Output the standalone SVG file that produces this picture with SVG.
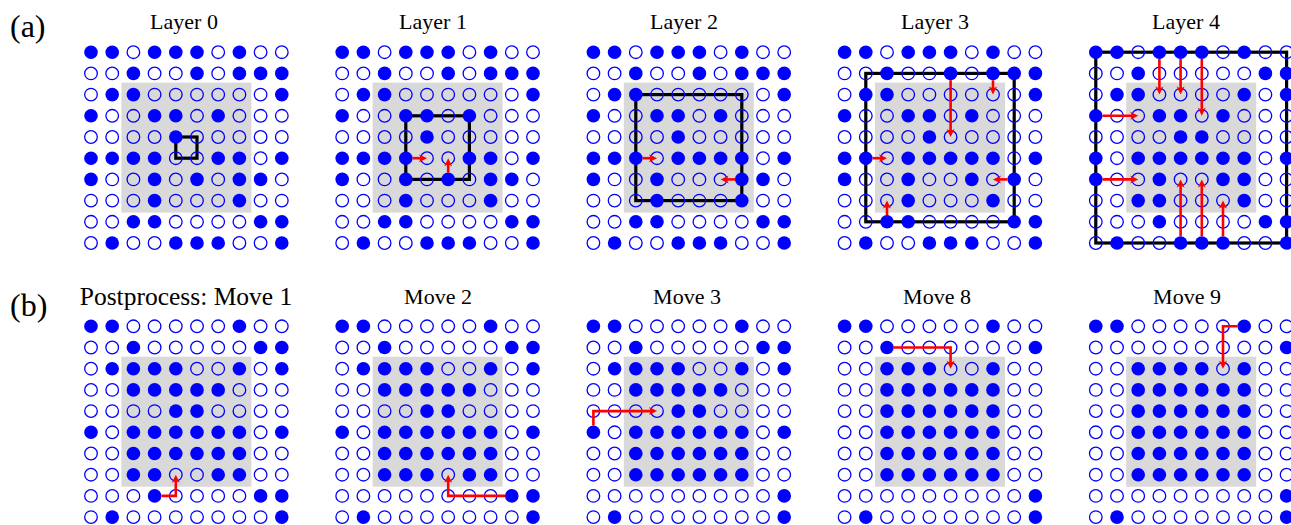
<svg xmlns="http://www.w3.org/2000/svg" xmlns:xlink="http://www.w3.org/1999/xlink" width="1291" height="525" viewBox="0 0 1291 525">
<style>
.t{font-family:"Liberation Serif","Times New Roman",serif;font-size:22px;fill:#000;text-anchor:middle}
.lab{font-family:"Liberation Serif","Times New Roman",serif;font-size:32px;fill:#000}
.g{fill:#d9d9d9}
.fr{fill:none;stroke:#000;stroke-width:3.2}
.ar{fill:none;stroke:#f00;stroke-width:2.6;marker-end:url(#ah)}
</style>
<defs>
<marker id="ah" markerUnits="userSpaceOnUse" markerWidth="8" markerHeight="8" refX="4" refY="4" orient="auto" overflow="visible"><path d="M0,0 L8,4 L0,8 L2,4 z" fill="#f00"/></marker>
<circle id="F" r="6.8" fill="#00f"/>
<circle id="H" r="6.3" fill="none" stroke="#00f" stroke-width="1.3"/>
<g id="ra"><use href="#F" x="0"/><use href="#F" x="21.2"/><use href="#H" x="42.4"/><use href="#F" x="63.6"/><use href="#F" x="84.8"/><use href="#F" x="106"/><use href="#H" x="127.2"/><use href="#F" x="148.4"/><use href="#H" x="169.6"/><use href="#H" x="190.8"/></g>
<g id="rb"><use href="#H" x="0"/><use href="#H" x="21.2"/><use href="#F" x="42.4"/><use href="#H" x="63.6"/><use href="#H" x="84.8"/><use href="#F" x="106"/><use href="#H" x="127.2"/><use href="#F" x="148.4"/><use href="#F" x="169.6"/><use href="#F" x="190.8"/></g>
<g id="rc"><use href="#H" x="0"/><use href="#F" x="21.2"/><use href="#F" x="42.4"/><use href="#H" x="63.6"/><use href="#H" x="84.8"/><use href="#H" x="106"/><use href="#H" x="127.2"/><use href="#H" x="148.4"/><use href="#H" x="169.6"/><use href="#F" x="190.8"/></g>
<g id="rd"><use href="#F" x="0"/><use href="#H" x="21.2"/><use href="#H" x="42.4"/><use href="#F" x="63.6"/><use href="#F" x="84.8"/><use href="#H" x="106"/><use href="#F" x="127.2"/><use href="#H" x="148.4"/><use href="#H" x="169.6"/><use href="#H" x="190.8"/></g>
<g id="re"><use href="#H" x="0"/><use href="#H" x="21.2"/><use href="#H" x="42.4"/><use href="#H" x="63.6"/><use href="#F" x="84.8"/><use href="#H" x="106"/><use href="#H" x="127.2"/><use href="#H" x="148.4"/><use href="#H" x="169.6"/><use href="#H" x="190.8"/></g>
<g id="rf"><use href="#F" x="0"/><use href="#F" x="21.2"/><use href="#F" x="42.4"/><use href="#F" x="63.6"/><use href="#H" x="84.8"/><use href="#H" x="106"/><use href="#F" x="127.2"/><use href="#F" x="148.4"/><use href="#H" x="169.6"/><use href="#F" x="190.8"/></g>
<g id="rg"><use href="#F" x="0"/><use href="#H" x="21.2"/><use href="#H" x="42.4"/><use href="#F" x="63.6"/><use href="#H" x="84.8"/><use href="#F" x="106"/><use href="#H" x="127.2"/><use href="#F" x="148.4"/><use href="#F" x="169.6"/><use href="#H" x="190.8"/></g>
<g id="rh"><use href="#H" x="0"/><use href="#H" x="21.2"/><use href="#H" x="42.4"/><use href="#F" x="63.6"/><use href="#H" x="84.8"/><use href="#H" x="106"/><use href="#H" x="127.2"/><use href="#F" x="148.4"/><use href="#H" x="169.6"/><use href="#H" x="190.8"/></g>
<g id="ri"><use href="#H" x="0"/><use href="#H" x="21.2"/><use href="#F" x="42.4"/><use href="#F" x="63.6"/><use href="#H" x="84.8"/><use href="#H" x="106"/><use href="#H" x="127.2"/><use href="#H" x="148.4"/><use href="#F" x="169.6"/><use href="#F" x="190.8"/></g>
<g id="rj"><use href="#H" x="0"/><use href="#F" x="21.2"/><use href="#H" x="42.4"/><use href="#H" x="63.6"/><use href="#F" x="84.8"/><use href="#F" x="106"/><use href="#F" x="127.2"/><use href="#H" x="148.4"/><use href="#H" x="169.6"/><use href="#F" x="190.8"/></g>
<g id="rk"><use href="#F" x="0"/><use href="#F" x="21.2"/><use href="#F" x="42.4"/><use href="#H" x="63.6"/><use href="#F" x="84.8"/><use href="#F" x="106"/><use href="#F" x="127.2"/><use href="#F" x="148.4"/><use href="#H" x="169.6"/><use href="#F" x="190.8"/></g>
<g id="rl"><use href="#F" x="0"/><use href="#H" x="21.2"/><use href="#H" x="42.4"/><use href="#F" x="63.6"/><use href="#H" x="84.8"/><use href="#H" x="106"/><use href="#H" x="127.2"/><use href="#F" x="148.4"/><use href="#F" x="169.6"/><use href="#H" x="190.8"/></g>
<g id="rm"><use href="#F" x="0"/><use href="#F" x="21.2"/><use href="#H" x="42.4"/><use href="#F" x="63.6"/><use href="#F" x="84.8"/><use href="#F" x="106"/><use href="#F" x="127.2"/><use href="#F" x="148.4"/><use href="#H" x="169.6"/><use href="#F" x="190.8"/></g>
<g id="rn"><use href="#F" x="0"/><use href="#H" x="21.2"/><use href="#H" x="42.4"/><use href="#F" x="63.6"/><use href="#H" x="84.8"/><use href="#H" x="106"/><use href="#F" x="127.2"/><use href="#H" x="148.4"/><use href="#F" x="169.6"/><use href="#H" x="190.8"/></g>
<g id="ro"><use href="#H" x="0"/><use href="#H" x="21.2"/><use href="#F" x="42.4"/><use href="#H" x="63.6"/><use href="#H" x="84.8"/><use href="#H" x="106"/><use href="#H" x="127.2"/><use href="#H" x="148.4"/><use href="#F" x="169.6"/><use href="#F" x="190.8"/></g>
<g id="rp"><use href="#H" x="0"/><use href="#F" x="21.2"/><use href="#F" x="42.4"/><use href="#H" x="63.6"/><use href="#H" x="84.8"/><use href="#H" x="106"/><use href="#H" x="127.2"/><use href="#F" x="148.4"/><use href="#H" x="169.6"/><use href="#F" x="190.8"/></g>
<g id="rq"><use href="#H" x="0"/><use href="#H" x="21.2"/><use href="#H" x="42.4"/><use href="#H" x="63.6"/><use href="#F" x="84.8"/><use href="#F" x="106"/><use href="#H" x="127.2"/><use href="#H" x="148.4"/><use href="#H" x="169.6"/><use href="#H" x="190.8"/></g>
<g id="rr"><use href="#F" x="0"/><use href="#H" x="21.2"/><use href="#F" x="42.4"/><use href="#F" x="63.6"/><use href="#F" x="84.8"/><use href="#F" x="106"/><use href="#F" x="127.2"/><use href="#F" x="148.4"/><use href="#H" x="169.6"/><use href="#F" x="190.8"/></g>
<g id="rs"><use href="#F" x="0"/><use href="#H" x="21.2"/><use href="#H" x="42.4"/><use href="#F" x="63.6"/><use href="#H" x="84.8"/><use href="#H" x="106"/><use href="#F" x="127.2"/><use href="#F" x="148.4"/><use href="#H" x="169.6"/><use href="#H" x="190.8"/></g>
<g id="rt"><use href="#H" x="0"/><use href="#H" x="21.2"/><use href="#F" x="42.4"/><use href="#F" x="63.6"/><use href="#H" x="84.8"/><use href="#H" x="106"/><use href="#H" x="127.2"/><use href="#F" x="148.4"/><use href="#H" x="169.6"/><use href="#H" x="190.8"/></g>
<g id="ru"><use href="#H" x="0"/><use href="#H" x="21.2"/><use href="#H" x="42.4"/><use href="#F" x="63.6"/><use href="#H" x="84.8"/><use href="#H" x="106"/><use href="#H" x="127.2"/><use href="#H" x="148.4"/><use href="#F" x="169.6"/><use href="#F" x="190.8"/></g>
<g id="rv"><use href="#F" x="0"/><use href="#F" x="21.2"/><use href="#H" x="42.4"/><use href="#H" x="63.6"/><use href="#H" x="84.8"/><use href="#H" x="106"/><use href="#H" x="127.2"/><use href="#F" x="148.4"/><use href="#H" x="169.6"/><use href="#H" x="190.8"/></g>
<g id="rw"><use href="#H" x="0"/><use href="#F" x="21.2"/><use href="#F" x="42.4"/><use href="#F" x="63.6"/><use href="#F" x="84.8"/><use href="#H" x="106"/><use href="#H" x="127.2"/><use href="#F" x="148.4"/><use href="#H" x="169.6"/><use href="#F" x="190.8"/></g>
<g id="rx"><use href="#H" x="0"/><use href="#H" x="21.2"/><use href="#F" x="42.4"/><use href="#F" x="63.6"/><use href="#F" x="84.8"/><use href="#F" x="106"/><use href="#F" x="127.2"/><use href="#H" x="148.4"/><use href="#H" x="169.6"/><use href="#H" x="190.8"/></g>
<g id="ry"><use href="#H" x="0"/><use href="#H" x="21.2"/><use href="#F" x="42.4"/><use href="#F" x="63.6"/><use href="#F" x="84.8"/><use href="#F" x="106"/><use href="#F" x="127.2"/><use href="#F" x="148.4"/><use href="#H" x="169.6"/><use href="#H" x="190.8"/></g>
<g id="rz"><use href="#H" x="0"/><use href="#H" x="21.2"/><use href="#F" x="42.4"/><use href="#F" x="63.6"/><use href="#H" x="84.8"/><use href="#H" x="106"/><use href="#F" x="127.2"/><use href="#F" x="148.4"/><use href="#H" x="169.6"/><use href="#H" x="190.8"/></g>
<g id="rA"><use href="#H" x="0"/><use href="#F" x="21.2"/><use href="#H" x="42.4"/><use href="#H" x="63.6"/><use href="#H" x="84.8"/><use href="#H" x="106"/><use href="#H" x="127.2"/><use href="#H" x="148.4"/><use href="#H" x="169.6"/><use href="#F" x="190.8"/></g>
<g id="rB"><use href="#H" x="0"/><use href="#H" x="21.2"/><use href="#F" x="42.4"/><use href="#F" x="63.6"/><use href="#F" x="84.8"/><use href="#H" x="106"/><use href="#F" x="127.2"/><use href="#F" x="148.4"/><use href="#H" x="169.6"/><use href="#H" x="190.8"/></g>
<g id="rC"><use href="#H" x="0"/><use href="#H" x="21.2"/><use href="#H" x="42.4"/><use href="#H" x="63.6"/><use href="#H" x="84.8"/><use href="#H" x="106"/><use href="#H" x="127.2"/><use href="#H" x="148.4"/><use href="#F" x="169.6"/><use href="#F" x="190.8"/></g>
<g id="rD"><use href="#H" x="0"/><use href="#H" x="21.2"/><use href="#H" x="42.4"/><use href="#H" x="63.6"/><use href="#H" x="84.8"/><use href="#H" x="106"/><use href="#H" x="127.2"/><use href="#H" x="148.4"/><use href="#H" x="169.6"/><use href="#F" x="190.8"/></g>
<g id="rE"><use href="#H" x="0"/><use href="#H" x="21.2"/><use href="#F" x="42.4"/><use href="#H" x="63.6"/><use href="#H" x="84.8"/><use href="#H" x="106"/><use href="#H" x="127.2"/><use href="#H" x="148.4"/><use href="#H" x="169.6"/><use href="#F" x="190.8"/></g>
<g id="rF"><use href="#H" x="0"/><use href="#H" x="21.2"/><use href="#F" x="42.4"/><use href="#F" x="63.6"/><use href="#F" x="84.8"/><use href="#H" x="106"/><use href="#H" x="127.2"/><use href="#F" x="148.4"/><use href="#H" x="169.6"/><use href="#H" x="190.8"/></g>
<g id="rG"><use href="#H" x="0"/><use href="#H" x="21.2"/><use href="#F" x="42.4"/><use href="#F" x="63.6"/><use href="#F" x="84.8"/><use href="#F" x="106"/><use href="#H" x="127.2"/><use href="#F" x="148.4"/><use href="#H" x="169.6"/><use href="#H" x="190.8"/></g>
</defs>
<rect width="1291" height="525" fill="#fff"/>
<g id="labels">
<text class="lab" x="10" y="37">(a)</text>
<text class="lab" x="10" y="316">(b)</text>
<text class="t" x="184" y="29">Layer 0</text>
<text class="t" x="433" y="29">Layer 1</text>
<text class="t" x="684" y="29">Layer 2</text>
<text class="t" x="935" y="29">Layer 3</text>
<text class="t" x="1186" y="29">Layer 4</text>
<text class="t" x="186" y="305" style="font-size:25.5px">Postprocess: Move 1</text>
<text class="t" x="438" y="304">Move 2</text>
<text class="t" x="687" y="304">Move 3</text>
<text class="t" x="937" y="304">Move 8</text>
<text class="t" x="1187" y="304">Move 9</text>
</g>
<g id="layer0" transform="translate(91,52.2)">
<rect class="g" x="30.4" y="30.4" width="130" height="130"/>
<rect class="fr" x="84.8" y="84.8" width="21.2" height="21.2"/>
<use href="#ra" y="0"/><use href="#rb" y="21.2"/><use href="#rc" y="42.4"/><use href="#rd" y="63.6"/><use href="#re" y="84.8"/><use href="#rf" y="106"/><use href="#rg" y="127.2"/><use href="#rh" y="148.4"/><use href="#ri" y="169.6"/><use href="#rj" y="190.8"/>
</g>
<g id="layer1" transform="translate(342.2,52.2)">
<rect class="g" x="30.4" y="30.4" width="130" height="130"/>
<rect class="fr" x="63.6" y="63.6" width="63.6" height="63.6"/>
<use href="#ra" y="0"/><use href="#rb" y="21.2"/><use href="#rc" y="42.4"/><use href="#rd" y="63.6"/><use href="#re" y="84.8"/><use href="#rf" y="106"/><use href="#rg" y="127.2"/><use href="#rh" y="148.4"/><use href="#ri" y="169.6"/><use href="#rj" y="190.8"/>
</g>
<g id="layer2" transform="translate(593.4,52.2)">
<rect class="g" x="30.4" y="30.4" width="130" height="130"/>
<rect class="fr" x="42.4" y="42.4" width="106" height="106"/>
<use href="#ra" y="0"/><use href="#rb" y="21.2"/><use href="#rc" y="42.4"/><use href="#rd" y="63.6"/><use href="#re" y="84.8"/><use href="#rk" y="106"/><use href="#rl" y="127.2"/><use href="#rh" y="148.4"/><use href="#ri" y="169.6"/><use href="#rj" y="190.8"/>
</g>
<g id="layer3" transform="translate(844.6,52.2)">
<rect class="g" x="30.4" y="30.4" width="130" height="130"/>
<rect class="fr" x="21.2" y="21.2" width="148.4" height="148.4"/>
<use href="#ra" y="0"/><use href="#rb" y="21.2"/><use href="#rc" y="42.4"/><use href="#rd" y="63.6"/><use href="#re" y="84.8"/><use href="#rm" y="106"/><use href="#rn" y="127.2"/><use href="#rh" y="148.4"/><use href="#ri" y="169.6"/><use href="#rj" y="190.8"/>
</g>
<g id="layer4" transform="translate(1095.8,52.2)">
<rect class="g" x="30.4" y="30.4" width="130" height="130"/>
<rect class="fr" x="0" y="0" width="190.8" height="190.8"/>
<use href="#ra" y="0"/><use href="#ro" y="21.2"/><use href="#rp" y="42.4"/><use href="#rd" y="63.6"/><use href="#rq" y="84.8"/><use href="#rr" y="106"/><use href="#rs" y="127.2"/><use href="#rt" y="148.4"/><use href="#ru" y="169.6"/><use href="#rj" y="190.8"/>
</g>
<g id="move1" transform="translate(91,326.3)">
<rect class="g" x="30.4" y="30.4" width="130" height="130"/>
<use href="#rv" y="0"/><use href="#ro" y="21.2"/><use href="#rw" y="42.4"/><use href="#rx" y="63.6"/><use href="#rq" y="84.8"/><use href="#rr" y="106"/><use href="#ry" y="127.2"/><use href="#rz" y="148.4"/><use href="#ru" y="169.6"/><use href="#rA" y="190.8"/>
</g>
<g id="move2" transform="translate(342.2,326.3)">
<rect class="g" x="30.4" y="30.4" width="130" height="130"/>
<use href="#rv" y="0"/><use href="#ro" y="21.2"/><use href="#rw" y="42.4"/><use href="#rx" y="63.6"/><use href="#rq" y="84.8"/><use href="#rr" y="106"/><use href="#ry" y="127.2"/><use href="#rB" y="148.4"/><use href="#rC" y="169.6"/><use href="#rA" y="190.8"/>
</g>
<g id="move3" transform="translate(593.4,326.3)">
<rect class="g" x="30.4" y="30.4" width="130" height="130"/>
<use href="#rv" y="0"/><use href="#ro" y="21.2"/><use href="#rw" y="42.4"/><use href="#rx" y="63.6"/><use href="#rq" y="84.8"/><use href="#rr" y="106"/><use href="#ry" y="127.2"/><use href="#ry" y="148.4"/><use href="#rD" y="169.6"/><use href="#rA" y="190.8"/>
</g>
<g id="move8" transform="translate(844.6,326.3)">
<rect class="g" x="30.4" y="30.4" width="130" height="130"/>
<use href="#rv" y="0"/><use href="#rE" y="21.2"/><use href="#rF" y="42.4"/><use href="#ry" y="63.6"/><use href="#ry" y="84.8"/><use href="#ry" y="106"/><use href="#ry" y="127.2"/><use href="#ry" y="148.4"/><use href="#rD" y="169.6"/><use href="#rA" y="190.8"/>
</g>
<g id="move9" transform="translate(1095.8,326.3)">
<rect class="g" x="30.4" y="30.4" width="130" height="130"/>
<use href="#rv" y="0"/><use href="#rD" y="21.2"/><use href="#rG" y="42.4"/><use href="#ry" y="63.6"/><use href="#ry" y="84.8"/><use href="#ry" y="106"/><use href="#ry" y="127.2"/><use href="#ry" y="148.4"/><use href="#rD" y="169.6"/><use href="#rA" y="190.8"/>
</g>
<g id="connectors">
<g transform="translate(342.2,52.2)">
<path class="ar" d="M70.4,106 H80.8"/>
<path class="ar" d="M106,120.4 V110"/>
</g>
<g transform="translate(593.4,52.2)">
<path class="ar" d="M49.2,106 H59.6"/>
<path class="ar" d="M141.6,127.2 H131.2"/>
</g>
<g transform="translate(844.6,52.2)">
<path class="ar" d="M106,28 V80.8"/>
<path class="ar" d="M148.4,28 V38.4"/>
<path class="ar" d="M28,106 H38.4"/>
<path class="ar" d="M162.8,127.2 H152.4"/>
<path class="ar" d="M42.4,162.8 V152.4"/>
</g>
<g transform="translate(1095.8,52.2)">
<path class="ar" d="M63.6,6.8 V38.4"/>
<path class="ar" d="M84.8,6.8 V38.4"/>
<path class="ar" d="M106,6.8 V59.6"/>
<path class="ar" d="M6.8,63.6 H38.4"/>
<path class="ar" d="M6.8,127.2 H38.4"/>
<path class="ar" d="M84.8,184 V131.2"/>
<path class="ar" d="M106,184 V131.2"/>
<path class="ar" d="M127.2,184 V152.4"/>
</g>
<g transform="translate(91,326.3)"><path class="ar" d="M70.4,169.6 H84.8 V152.4"/></g>
<g transform="translate(342.2,326.3)"><path class="ar" d="M162.8,169.6 H106 V152.4"/></g>
<g transform="translate(593.4,326.3)"><path class="ar" d="M0,99.2 V84.8 H59.6"/></g>
<g transform="translate(844.6,326.3)"><path class="ar" d="M49.2,21.2 H106 V38.4"/></g>
<g transform="translate(1095.8,326.3)"><path class="ar" d="M141.6,0 H127.2 V38.4"/></g>
</g>
</svg>
